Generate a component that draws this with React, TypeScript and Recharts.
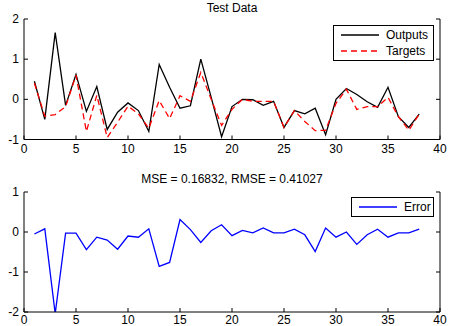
import { LineChart, Line, XAxis, YAxis } from "recharts"

const xValues = [
  1, 2, 3, 4, 5, 6, 7, 8, 9, 10, 11, 12, 13, 14, 15, 16, 17, 18, 19, 20,
  21, 22, 23, 24, 25, 26, 27, 28, 29, 30, 31, 32, 33, 34, 35, 36, 37, 38,
]
const outputs = [
  0.45, -0.5, 1.66, -0.15, 0.62, -0.3, 0.32, -0.75, -0.32, -0.09, -0.28, -0.8, 0.87, 0.3, -0.22, -0.16, 1.0, 0.05, -0.93, -0.18,
  0.0, -0.01, -0.15, -0.05, -0.7, -0.28, -0.36, -0.22, -0.88, 0.0, 0.27, 0.12, -0.06, -0.2, 0.3, -0.43, -0.7, -0.37,
]
const targets = [
  0.4, -0.42, -0.38, -0.18, 0.6, -0.8, 0.1, -0.95, -0.57, -0.17, -0.36, -0.72, -0.03, -0.48, 0.09, -0.05, 0.67, 0.0, -0.65, -0.25,
  0.0, -0.05, -0.05, -0.05, -0.7, -0.28, -0.55, -0.78, -0.77, -0.1, 0.25, -0.25, -0.18, -0.18, 0.05, -0.43, -0.77, -0.37,
]
const errors = [
  -0.05, 0.08, -2.04, -0.03, -0.03, -0.44, -0.13, -0.2, -0.43, -0.1, -0.13, 0.08, -0.86, -0.76, 0.31, 0.06, -0.26, 0.03, 0.18, -0.09,
  0.04, -0.02, 0.1, -0.02, -0.02, 0.07, -0.07, -0.49, 0.1, -0.13, 0.0, -0.31, -0.07, 0.07, -0.13, -0.02, -0.02, 0.07,
]
const xTicks = [0, 5, 10, 15, 20, 25, 30, 35, 40]
const topYTicks = [-1, 0, 1, 2]
const bottomYTicks = [-2, -1, 0, 1]

const topTitle = "Test Data"
const bottomTitle = "MSE = 0.16832, RMSE = 0.41027"

const FONT = "'Liberation Sans', Arial, Helvetica, sans-serif"

const topData = xValues.map((x, i) => ({ x, outputs: outputs[i], targets: targets[i] }))
const bottomData = xValues.map((x, i) => ({ x, error: errors[i] }))

// matlab style: ticks point inward, labels only on left/bottom
function BottomTick(props: any) {
  const { x, y, payload, gap = 13.5 } = props
  return (
    <g>
      <line x1={x} x2={x} y1={y} y2={y - 4} stroke="#000" />
      <text x={x} y={y + gap} textAnchor="middle" fontSize={12} fill="#000" fontFamily={FONT}>
        {payload.value}
      </text>
    </g>
  )
}

function TopTick(props: any) {
  const { x, y } = props
  return <line x1={x} x2={x} y1={y} y2={y + 4} stroke="#000" />
}

function LeftTick(props: any) {
  const { x, y, payload } = props
  return (
    <g>
      <line x1={x} x2={x + 4} y1={y} y2={y} stroke="#000" />
      <text x={x - 5} y={y + 4} textAnchor="end" fontSize={12} fill="#000" fontFamily={FONT}>
        {payload.value}
      </text>
    </g>
  )
}

function RightTick(props: any) {
  const { x, y } = props
  return <line x1={x} x2={x - 4} y1={y} y2={y} stroke="#000" />
}

function LegendBox({ items, left, top, width }: { items: { label: string; color: string; dash?: string }[]; left: number; top: number; width: number }) {
  return (
    <div
      style={{
        position: "absolute",
        left,
        top,
        width,
        boxSizing: "border-box",
        border: "1.5px solid #000",
        background: "#fff",
        fontFamily: FONT,
        fontSize: 12,
        padding: "1px 0",
        whiteSpace: "nowrap",
      }}
    >
      {items.map((it) => (
        <div key={it.label} style={{ display: "flex", alignItems: "center", height: 16 }}>
          <svg width={52} height={16} style={{ flex: "none" }}>
            <line x1={7} x2={45} y1={8} y2={8} stroke={it.color} strokeWidth={1.3} strokeDasharray={it.dash} />
          </svg>
          <span style={{ color: "#000" }}>{it.label}</span>
        </div>
      ))}
    </div>
  )
}

export default function App() {
  return (
    <div style={{ position: "absolute", left: 0, top: 0, width: 461, height: 326, background: "#fff", fontFamily: FONT }}>
      <div style={{ position: "absolute", left: 0, top: 0 }}>
        <LineChart width={461} height={160} data={topData} margin={{ top: 19, right: 0, bottom: 0.5, left: 0 }}>
          <XAxis xAxisId="b" type="number" dataKey="x" domain={[0, 40]} ticks={xTicks} allowDataOverflow height={20}
            axisLine={{ stroke: "#000" }} tickLine={false} tickSize={0} tickMargin={0} tick={<BottomTick />} />
          <XAxis xAxisId="t" orientation="top" type="number" dataKey="x" domain={[0, 40]} ticks={xTicks} allowDataOverflow height={0}
            axisLine={{ stroke: "#000" }} tickLine={false} tickSize={0} tickMargin={0} tick={<TopTick />} />
          <YAxis yAxisId="l" type="number" domain={[-1, 2]} ticks={topYTicks} allowDataOverflow width={24}
            axisLine={{ stroke: "#000" }} tickLine={false} tickSize={0} tickMargin={0} tick={<LeftTick />} />
          <YAxis yAxisId="r" orientation="right" type="number" domain={[-1, 2]} ticks={topYTicks} allowDataOverflow width={21}
            axisLine={{ stroke: "#000" }} tickLine={false} tickSize={0} tickMargin={0} tick={<RightTick />} />
          <Line xAxisId="b" yAxisId="l" type="linear" dataKey="outputs" stroke="#000" strokeWidth={1.3} dot={false} isAnimationActive={false} />
          <Line xAxisId="b" yAxisId="l" type="linear" dataKey="targets" stroke="#ff0000" strokeWidth={1.3} strokeDasharray="6 4" dot={false} isAnimationActive={false} />
        </LineChart>
      </div>
      <div style={{ position: "absolute", left: 0, top: 160 }}>
        <LineChart width={461} height={166} data={bottomData} margin={{ top: 32, right: 0, bottom: 0, left: 0 }}>
          <XAxis xAxisId="b" type="number" dataKey="x" domain={[0, 40]} ticks={xTicks} allowDataOverflow height={14}
            axisLine={{ stroke: "#000" }} tickLine={false} tickSize={0} tickMargin={0} tick={<BottomTick gap={11.5} />} />
          <XAxis xAxisId="t" orientation="top" type="number" dataKey="x" domain={[0, 40]} ticks={xTicks} allowDataOverflow height={0}
            axisLine={{ stroke: "#000" }} tickLine={false} tickSize={0} tickMargin={0} tick={<TopTick />} />
          <YAxis yAxisId="l" type="number" domain={[-2, 1]} ticks={bottomYTicks} allowDataOverflow width={24}
            axisLine={{ stroke: "#000" }} tickLine={false} tickSize={0} tickMargin={0} tick={<LeftTick />} />
          <YAxis yAxisId="r" orientation="right" type="number" domain={[-2, 1]} ticks={bottomYTicks} allowDataOverflow width={21}
            axisLine={{ stroke: "#000" }} tickLine={false} tickSize={0} tickMargin={0} tick={<RightTick />} />
          <Line xAxisId="b" yAxisId="l" type="linear" dataKey="error" stroke="#0000ff" strokeWidth={1.3} dot={false} isAnimationActive={false} />
        </LineChart>
      </div>
      <div style={{ position: "absolute", left: 24, width: 416, top: 1, textAlign: "center", fontSize: 12, lineHeight: "14px" }}>
        {topTitle}
      </div>
      <div style={{ position: "absolute", left: 24, width: 416, top: 172, textAlign: "center", fontSize: 12, lineHeight: "14px" }}>
        {bottomTitle}
      </div>
      <LegendBox
        left={333}
        top={25}
        width={101}
        items={[
          { label: "Outputs", color: "#000" },
          { label: "Targets", color: "#ff0000", dash: "6 4" },
        ]}
      />
      <LegendBox left={351} top={197} width={83} items={[{ label: "Error", color: "#0000ff" }]} />
    </div>
  )
}
